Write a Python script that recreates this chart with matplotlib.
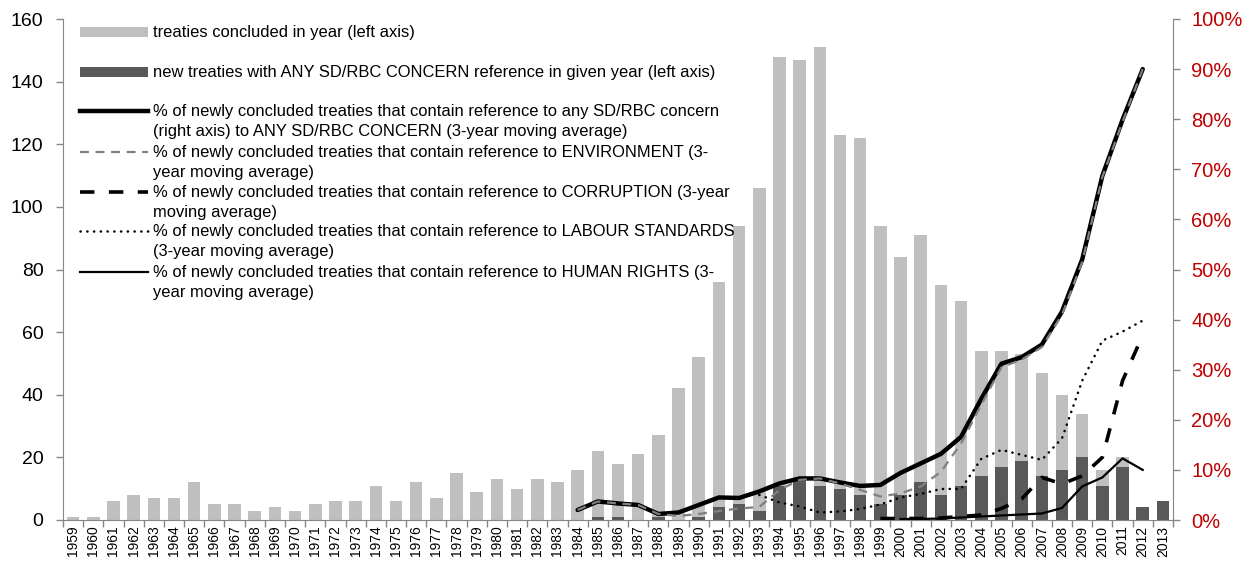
import matplotlib
matplotlib.use('Agg')
import matplotlib.pyplot as plt
from matplotlib.lines import Line2D
from matplotlib.patches import Rectangle
from matplotlib.ticker import PercentFormatter, FixedLocator
import numpy as np

plt.rcParams['font.family'] = ['Liberation Sans', 'DejaVu Sans']

years = list(range(1959, 2014))
treaties = [1, 1, 6, 8, 7, 7, 12, 5, 5, 3, 4, 3, 5, 6, 6, 11, 6, 12, 7, 15,
            9, 13, 10, 13, 12, 16, 22, 18, 21, 27, 42, 52, 76, 94, 106, 148, 147, 151, 123, 122,
            94, 84, 91, 75, 70, 54, 54, 53, 47, 40, 34, 16, 20, 4, 6]
sd_treaties = [0, 0, 0, 0, 0, 0, 0, 0, 0, 0, 0, 0, 0, 0, 0, 0, 0, 0, 0, 0,
               0, 0, 0, 0, 0, 0, 1, 1, 0, 1, 0, 1, 4, 5, 3, 11, 13, 11, 10, 8,
               5, 8, 12, 8, 11, 14, 17, 19, 14, 16, 20, 11, 17, 4, 6]

# 3-year moving averages, in percent
any_years = list(range(1984, 2013))
any_sd = [2.0, 3.7, 3.3, 3.0, 1.2, 1.5, 3.0, 4.5, 4.4, 5.7, 7.3, 8.3, 8.3, 7.5, 6.8,
          7.0, 9.4, 11.3, 13.2, 16.6, 24.2, 31.2, 32.5, 35.0, 41.6, 52.0, 68.7, 79.9, 90.0]
env_years = list(range(1984, 2013))
environment = [2.0, 3.7, 3.3, 3.0, 1.2, 0.8, 1.2, 1.8, 2.3, 2.6, 6.0, 8.0, 8.3, 7.3, 6.0,
               4.7, 5.3, 6.7, 9.6, 15.3, 23.0, 30.5, 32.0, 34.5, 41.0, 51.5, 68.5, 79.5, 90.0]
cor_years = list(range(1999, 2013))
corruption = [0.3, 0.3, 0.3, 0.4, 0.7, 1.0, 2.3, 4.2, 8.5, 7.2, 8.8, 12.5, 27.8, 36.9]
lab_years = list(range(1993, 2013))
labour = [5.0, 3.5, 2.7, 1.5, 1.7, 2.2, 3.1, 4.5, 5.2, 6.2, 6.2, 12.2, 14.0, 13.0, 12.0,
          16.3, 27.8, 35.8, 37.6, 39.8]
hr_years = list(range(2000, 2013))
human_rights = [0.2, 0.2, 0.3, 0.5, 0.7, 0.9, 1.1, 1.3, 2.4, 6.7, 8.5, 12.3, 10.0]

labels = [
    "treaties concluded in year (left axis)",
    "new treaties with ANY SD/RBC CONCERN reference in given year (left axis)",
    "% of newly concluded treaties that contain reference to any SD/RBC concern\n(right axis) to ANY SD/RBC CONCERN (3-year moving average)",
    "% of newly concluded treaties that contain reference to ENVIRONMENT (3-\nyear moving average)",
    "% of newly concluded treaties that contain reference to CORRUPTION (3-year\nmoving average)",
    "% of newly concluded treaties that contain reference to LABOUR STANDARDS\n(3-year moving average)",
    "% of newly concluded treaties that contain reference to HUMAN RIGHTS (3-\nyear moving average)",
]

W, H = 1252, 569
fig = plt.figure(figsize=(W / 100, H / 100), dpi=100)
ax = fig.add_axes([63 / W, 1 - 520 / H, (1173 - 63) / W, (520 - 19) / H])

x = np.arange(len(years))
ax.bar(x, treaties, width=0.62, color='#BFBFBF', zorder=1)
ax.bar(x, sd_treaties, width=0.62, color='#595959', zorder=2)
ax.set_xlim(-0.5, len(years) - 0.5)
ax.set_ylim(0, 160)
ax.set_yticks(range(0, 161, 20))

axis_col = '#868686'
for s in ['top', 'right']:
    ax.spines[s].set_visible(False)
ax.spines['left'].set_color(axis_col)
ax.spines['bottom'].set_color(axis_col)
ax.tick_params(axis='y', colors=axis_col, labelcolor='black', labelsize=14, length=5, width=1, pad=9)
ax.set_xticks(x)
ax.set_xticklabels([str(y) for y in years], rotation=90, fontsize=10)
ax.tick_params(axis='x', length=0, pad=4)
ax.xaxis.set_minor_locator(FixedLocator(np.arange(-0.5, len(years), 1)))
ax.tick_params(axis='x', which='minor', length=5, color=axis_col, width=1)

ax2 = ax.twinx()
ax2.set_ylim(0, 100)
ax2.set_yticks(range(0, 101, 10))
ax2.yaxis.set_major_formatter(PercentFormatter(decimals=0))
for s in ['top', 'left', 'bottom']:
    ax2.spines[s].set_visible(False)
ax2.spines['right'].set_color(axis_col)
ax2.tick_params(axis='y', colors=axis_col, labelcolor='#C00000', labelsize=14.5, length=5, width=1, pad=8)

def pos(yrs):
    return [years.index(y) for y in yrs]

ax2.plot(pos(any_years), any_sd, color='black', lw=3.2, solid_capstyle='round', zorder=3)
ax2.plot(pos(env_years), environment, color='#808080', lw=1.6, dashes=(4, 3), zorder=4)
ax2.plot(pos(cor_years), corruption, color='black', lw=2.6, dashes=(4, 4), zorder=5)
ax2.plot(pos(lab_years), labour, color='black', lw=1.8, dashes=(0.1, 2.6), dash_capstyle='round', zorder=5)
ax2.plot(pos(hr_years), human_rights, color='black', lw=1.6, zorder=5)

# legend drawn by hand (handles next to first line of each entry)
styles = [
    dict(kind='patch', color='#BFBFBF'),
    dict(kind='patch', color='#595959'),
    dict(kind='line', color='black', lw=3.2),
    dict(kind='line', color='#808080', lw=1.6, dashes=(4, 3)),
    dict(kind='line', color='black', lw=2.6, dashes=(4, 4)),
    dict(kind='line', color='black', lw=1.8, dashes=(0.1, 2.6), dash_capstyle='round'),
    dict(kind='line', color='black', lw=1.6),
]
rows = [32, 72, 111, 152, 192, 231, 272]
for lab, st, yp in zip(labels, styles, rows):
    yf = 1 - yp / H
    if st['kind'] == 'patch':
        fig.patches.append(Rectangle((80 / W, yf - 5 / H), 68 / W, 10 / H,
                                     transform=fig.transFigure, color=st['color'], lw=0))
    else:
        kw = {k: v for k, v in st.items() if k not in ('kind',)}
        fig.lines.append(Line2D([80 / W, 148 / W], [yf, yf], transform=fig.transFigure, **kw))
    fig.text(153 / W, yf + 7 / H, lab, ha='left', va='top', fontsize=11.9, linespacing=1.42)

fig.savefig('out.png', dpi=100)
